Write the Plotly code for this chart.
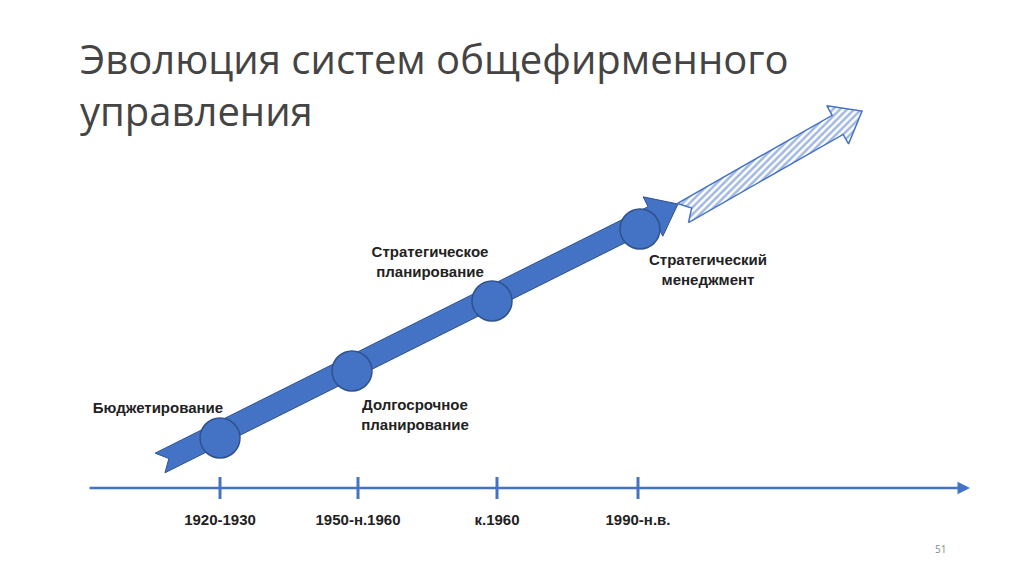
import numpy as np
import plotly.graph_objects as go

title = "Эволюция систем общефирменного<br>управления"
periods = ["1920-1930", "1950-н.1960", "к.1960", "1990-н.в."]
period_x = [220, 358, 497, 638]
stages = ["Бюджетирование", "Долгосрочное<br>планирование",
          "Стратегическое<br>планирование", "Стратегический<br>менеджмент"]
stage_x = [220, 352, 492, 640]
stage_y = [437, 370, 300, 228]
label_x = [158, 415, 430, 708]
label_y = [408, 415, 262, 270]
main_arrow = [(160, 462), (678, 203)]
future_arrow = [(683, 212), (862, 110)]

BLUE = "#4472C4"
DARK = "#2F528F"


def arrow_poly(p0, p1, w, hw, hl):
    p0, p1 = np.array(p0, float), np.array(p1, float)
    d = (p1 - p0) / np.linalg.norm(p1 - p0)
    n = np.array([-d[1], d[0]])
    b = p1 - d * hl
    pts = [p0 + n * w / 2, b + n * w / 2, b + n * hw / 2, p1,
           b - n * hw / 2, b - n * w / 2, p0 - n * w / 2, p0 + d * 10]
    pts.append(pts[0])
    xs, ys = zip(*pts)
    return list(xs), list(ys)


fig = go.Figure()

x, y = arrow_poly(*main_arrow, 22, 44, 28)
fig.add_trace(go.Scatter(x=x, y=y, fill="toself", fillcolor=BLUE, mode="lines",
                         line=dict(color=DARK, width=1), hoverinfo="skip"))
x, y = arrow_poly(*future_arrow, 22, 44, 28)
fig.add_trace(go.Scatter(x=x, y=y, fill="toself", mode="lines",
                         fillpattern=dict(shape="/", fgcolor=BLUE, bgcolor="white", size=5, solidity=0.5),
                         line=dict(color=BLUE, width=1.5), hoverinfo="skip"))
fig.add_trace(go.Scatter(x=stage_x, y=stage_y, mode="markers",
                         marker=dict(size=40, color=BLUE, line=dict(color=DARK, width=1.5))))
fig.add_trace(go.Scatter(x=label_x, y=label_y, mode="text", text=stages,
                         textfont=dict(family="Liberation Sans", size=15, color="#222", weight="bold")))
fig.add_trace(go.Scatter(x=period_x, y=[520] * 4, mode="text", text=periods,
                         textfont=dict(family="Liberation Sans", size=15, color="#222", weight="bold")))

fig.add_annotation(x=970, y=487, ax=88, ay=487, xref="x", yref="y", axref="x", ayref="y",
                   showarrow=True, arrowhead=2, arrowsize=1, arrowwidth=2.5, arrowcolor=BLUE, text="")
for px in period_x:
    fig.add_shape(type="line", x0=px, x1=px, y0=476, y1=498, line=dict(color=BLUE, width=3))

fig.add_annotation(x=78, y=28, xref="x", yref="y", text=title, showarrow=False,
                   xanchor="left", yanchor="top", align="left",
                   font=dict(family="Open Sans", size=40, color="#444"))
fig.add_annotation(x=940, y=548, xref="x", yref="y", text="51", showarrow=False,
                   font=dict(size=10, color="#888"))

fig.update_layout(width=1024, height=574, margin=dict(l=0, r=0, t=0, b=0),
                  plot_bgcolor="white", paper_bgcolor="white", showlegend=False,
                  xaxis=dict(range=[8, 1032], visible=False),
                  yaxis=dict(range=[581, 7], visible=False))
fig.write_html("out.html")
